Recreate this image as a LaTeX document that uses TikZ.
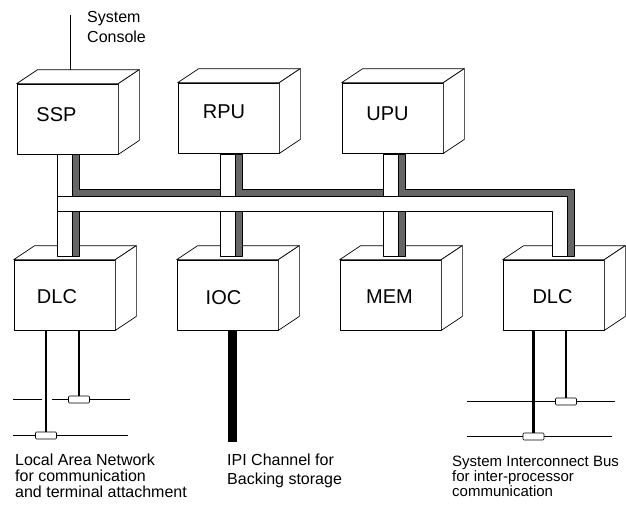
\documentclass[tikz,border=0pt]{standalone}
\usepackage{fontspec}
\setmainfont{Liberation Sans}
\usetikzlibrary{calc}
\begin{document}
\begin{tikzpicture}[x=1pt,y=-1pt,line join=round,
  boxface/.style={draw=black, fill=white, line width=0.7pt},
  unit/.style={boxface, rectangle, minimum width=101pt, minimum height=70pt, inner sep=0pt},
  unitlabel/.style={inner sep=0pt, font=\fontsize{20}{24}\selectfont},
  shadow/.style={draw=black, line width=0.6pt, fill=black!60},
  post/.style={draw=black, line width=0.6pt, fill=white},
  thin/.style={line width=0.6pt},
  cable/.style={line width=2.6pt},
  channel/.style={line width=9pt},
  net/.style={line width=0.8pt},
  tap/.style={draw, fill=white, rounded corners=1pt, minimum width=21pt, minimum height=7pt, inner sep=0pt, line width=0.6pt},
  caption/.style={anchor=base west, inner sep=0pt, font=\fontsize{16}{19}\selectfont},
  smallcaption/.style={caption, font=\fontsize{15}{18}\selectfont},
]
\useasboundingbox (0,0) rectangle (626,509);

% processor and controller units, drawn as cubes
\foreach \n/\x/\y/\t/\lx/\ly in {
  ssp/67.5/119/SSP/-11/4, rpu/228.5/118/RPU/-4.5/6, upu/392.5/118/UPU/-5/4,
  dlc1/64.5/295/DLC/-7.5/-2, ioc/227.5/295/IOC/-4/-2.5, mem/390.5/295/MEM/-1/-2, dlc2/553.5/295/DLC/-1/-2} {
  \node[unit, label={[unitlabel, xshift=\lx pt, yshift=\ly pt]center:\t}] (\n) at (\x,\y) {};
  \draw[boxface] (\n.north west) -- ++(21,-14) -- ($(\n.north east)+(21,-14)$) -- (\n.north east) -- cycle;
  \draw[boxface] (\n.north east) -- ++(21,-14) -- ($(\n.south east)+(21,-14)$) -- (\n.south east) -- cycle;
}

% system console line
\coordinate (console) at (70.5,15);
\coordinate (sspback) at ($(ssp.north)+(0,-14)$);
\draw[thin] (console) -- (console |- sspback);
\node[caption] (con1) at (87,22) {System};
\node[caption] (con2) at (87,42) {Console};

% shadow of the bus and of the drops
\draw[shadow] (72,154) -- (79,154) -- (79,189) -- (235,189) -- (235,154) -- (242,154) -- (242,189)
  -- (398,189) -- (398,154) -- (405,154) -- (405,189) -- (574,189) -- (574,256) -- (567,256)
  -- (567,196) -- (72,196) -- cycle;
\foreach \px in {57,220,383} {
  \draw[shadow] (\px+15,211) rectangle (\px+22,256);
}
% drops from the upper units and to the lower units
\foreach \px in {57,220,383} {
  \draw[post] (\px,154) rectangle (\px+15,196);
  \draw[post] (\px,211) rectangle (\px+15,256);
}
% the bus itself, turning down into the right DLC
\draw[post] (57,196) -- (567,196) -- (567,256) -- (552,256) -- (552,211) -- (57,211) -- cycle;

% local area network attachment
\node[tap] (t1a) at (79,399.5) {};
\node[tap] (t1b) at (46,435.5) {};
\coordinate (lan1l) at (13,399.5);
\coordinate (lan1r) at (130,399.5);
\coordinate (lan2l) at (13,435.5);
\coordinate (lan2r) at (128,435.5);
\draw[net] (lan1l) -- (42,399.5) (52,399.5) -- (t1a.west) (t1a.east) -- (lan1r);
\draw[net] (lan2l) -- (t1b.west) (t1b.east) -- (lan2r);
\draw[cable] (t1b.north) -- (t1b.north |- dlc1.south);
\draw[cable] (t1a.north) -- (t1a.north |- dlc1.south);

% IPI channel
\coordinate (ipiend) at (232.5,442);
\draw[channel] (ioc.south -| ipiend) -- (ipiend);

% system interconnect bus attachment
\node[tap] (t2a) at (566,401.5) {};
\node[tap] (t2b) at (533.5,436.5) {};
\coordinate (sib1l) at (467,401.5);
\coordinate (sib1r) at (615,401.5);
\coordinate (sib2l) at (467,436.5);
\coordinate (sib2r) at (612,436.5);
\draw[net] (sib1l) -- (t2a.west) (t2a.east) -- (sib1r);
\draw[net] (sib2l) -- (t2b.west) (t2b.east) -- (sib2r);
\draw[cable] (t2b.north) -- (t2b.north |- dlc2.south);
\draw[cable] (t2a.north) -- (t2a.north |- dlc2.south);

% captions
\node[caption] (lan1) at (15,465) {Local Area Network};
\node[caption] (lan2) at (15,481) {for communication};
\node[caption] (lan3) at (15,497) {and terminal attachment};
\node[caption] (ipi1) at (227,465) {IPI Channel for};
\node[caption] (ipi2) at (227,484) {Backing storage};
\node[smallcaption] (sib1) at (452,466) {System Interconnect Bus};
\node[smallcaption] (sib2) at (452,481) {for inter-processor};
\node[smallcaption] (sib3) at (452,496) {communication};
\end{tikzpicture}
\end{document}
